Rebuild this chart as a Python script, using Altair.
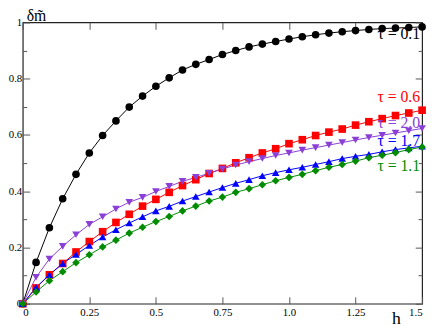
import altair as alt
import pandas as pd

h = [0.0, 0.05, 0.1, 0.15, 0.2, 0.25, 0.3, 0.35, 0.4, 0.45, 0.5, 0.55, 0.6, 0.65, 0.7, 0.75,
     0.8, 0.85, 0.9, 0.95, 1.0, 1.05, 1.1, 1.15, 1.2, 1.25, 1.3, 1.35, 1.4, 1.45, 1.5]

tau_01 = [0, 0.147, 0.270, 0.373, 0.460, 0.536, 0.598, 0.650, 0.699, 0.738, 0.773, 0.803,
          0.831, 0.851, 0.868, 0.886, 0.900, 0.913, 0.923, 0.932, 0.941, 0.949, 0.956, 0.962,
          0.967, 0.971, 0.975, 0.978, 0.980, 0.982, 0.984]
tau_06 = [0, 0.056, 0.103, 0.143, 0.184, 0.221, 0.256, 0.289, 0.318, 0.347, 0.371, 0.396,
          0.420, 0.441, 0.463, 0.481, 0.501, 0.519, 0.536, 0.551, 0.569, 0.583, 0.598, 0.610,
          0.621, 0.635, 0.647, 0.658, 0.669, 0.678, 0.688]
tau_20 = [0, 0.094, 0.159, 0.204, 0.245, 0.282, 0.309, 0.337, 0.361, 0.378, 0.399, 0.417,
          0.435, 0.449, 0.464, 0.479, 0.493, 0.505, 0.516, 0.527, 0.536, 0.546, 0.555, 0.564,
          0.573, 0.582, 0.591, 0.599, 0.607, 0.615, 0.623]
tau_17 = [0, 0.058, 0.103, 0.143, 0.175, 0.207, 0.237, 0.263, 0.287, 0.309, 0.330, 0.346,
          0.365, 0.381, 0.397, 0.413, 0.428, 0.441, 0.455, 0.466, 0.476, 0.485, 0.495, 0.505,
          0.516, 0.524, 0.531, 0.540, 0.548, 0.554, 0.560]
tau_11 = [0, 0.042, 0.082, 0.114, 0.146, 0.174, 0.202, 0.226, 0.251, 0.272, 0.292, 0.310,
          0.330, 0.347, 0.365, 0.379, 0.396, 0.409, 0.423, 0.437, 0.449, 0.460, 0.473, 0.485,
          0.495, 0.507, 0.519, 0.528, 0.537, 0.548, 0.557]

series_names = ["τ = 0.1", "τ = 0.6", "τ = 2.0", "τ = 1.7", "τ = 1.1"]
series_values = [tau_01, tau_06, tau_20, tau_17, tau_11]
colors = ["#000000", "#ff0000", "#8a3fd6", "#0000ff", "#008b00"]
shapes = ["circle", "square", "triangle-down", "triangle-up", "diamond"]

label_x = [1.5, 1.5, 1.5, 1.5, 1.5]
label_y = [0.96, 0.733, 0.643, 0.578, 0.49]

y_title = ["δm̃"]

x_ticks = [0, 0.25, 0.5, 0.75, 1.0, 1.25, 1.5]
y_ticks = [0, 0.2, 0.4, 0.6, 0.8, 1.0]
y_minor = [0.1, 0.3, 0.5, 0.7, 0.9]

rows = []
for name, vals in zip(series_names, series_values):
    for hx, v in zip(h, vals):
        rows.append({"h": hx, "v": v, "series": name})
df = pd.DataFrame(rows)

lab = pd.DataFrame({"h": label_x, "v": label_y, "series": series_names, "text": series_names})

FONT = "Liberation Serif"
common = dict(labelFont=FONT, labelFontSize=11, labelColor="black",
              tickColor="#555555", tickWidth=1, domain=False, grid=False)
xs = alt.Scale(domain=[0, 1.5], nice=False, zero=False)
ys = alt.Scale(domain=[0, 1], nice=False, zero=False)
col = alt.Color("series:N", scale=alt.Scale(domain=series_names, range=colors), legend=None)

lines = alt.Chart(df).mark_line(strokeWidth=1, clip=False).encode(
    x=alt.X("h:Q", scale=xs, axis=alt.Axis(
        orient="bottom", values=x_ticks,
        labelExpr="datum.value == 1 ? '1.0' : format(datum.value, '.2~f')",
        offset=-7, tickSize=7, labelPadding=3,
        title="h", titleX=375, titleY=27, titleAlign="left", titleBaseline="alphabetic",
        titleFontSize=18, titleFont=FONT, titleFontWeight="normal", titleColor="black",
        **common)),
    y=alt.Y("v:Q", scale=ys, axis=alt.Axis(
        orient="left", values=y_ticks,
        labelExpr="format(datum.value, '.1~f')",
        offset=-7, tickSize=7, labelPadding=1, title=None, **common)),
    color=col,
    order="h:Q",
)

points = alt.Chart(df).mark_point(filled=True, opacity=1, size=60, clip=False).encode(
    x=alt.X("h:Q", scale=xs, axis=alt.Axis(
        orient="top", values=x_ticks, offset=-7, tickSize=7, labels=False,
        title=None, **common)),
    y=alt.Y("v:Q", scale=ys, axis=alt.Axis(
        orient="right", values=y_ticks, offset=-7, tickSize=7, labels=False,
        title=None, **common)),
    color=col,
    shape=alt.Shape("series:N", scale=alt.Scale(domain=series_names, range=shapes), legend=None),
)

text1 = alt.Chart(lab.iloc[:3]).mark_text(
    align="right", baseline="middle", font=FONT, fontSize=16, dx=-2).encode(
    x=alt.X("h:Q", scale=xs, axis=None),
    y=alt.Y("v:Q", scale=ys, axis=alt.Axis(
        orient="left", values=y_minor, offset=-4, tickSize=4, labels=False,
        title=None, **common)),
    text="text:N",
    color=col,
)

text2 = alt.Chart(lab.iloc[3:]).mark_text(
    align="right", baseline="middle", font=FONT, fontSize=16, dx=-2).encode(
    x=alt.X("h:Q", scale=xs, axis=None),
    y=alt.Y("v:Q", scale=ys, axis=alt.Axis(
        orient="right", values=y_minor, offset=-4, tickSize=4, labels=False,
        title=None, **common)),
    text="text:N",
    color=col,
)

ytitle = alt.Chart(pd.DataFrame({"t": y_title})).mark_text(
    align="left", baseline="alphabetic", font=FONT, fontSize=16, color="black"
).encode(
    x=alt.value(4), y=alt.value(-1), text="t:N"
)

chart = alt.layer(lines, points, text1, text2, ytitle).resolve_axis(
    x="independent", y="independent"
).properties(
    width=406, height=286,
    autosize=alt.AutoSizeParams(type="none"),
    padding={"left": 15, "top": 12, "right": 6, "bottom": 21},
).configure_view(
    stroke="#222222", strokeWidth=1.2
)

chart.save("out.html", embed_options={"renderer": "svg", "actions": False})
